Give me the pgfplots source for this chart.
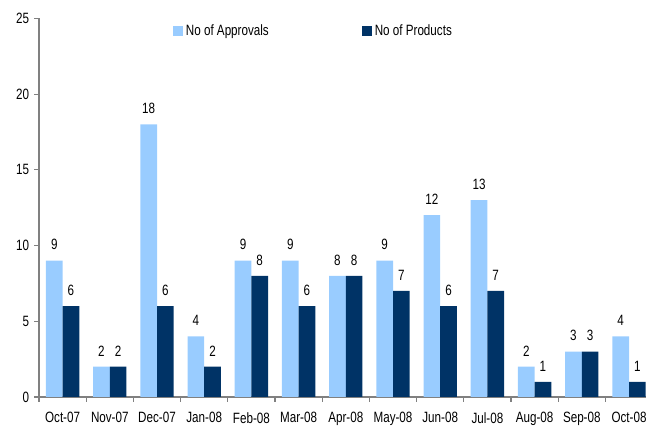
\documentclass[border=0pt]{standalone}
\usepackage{fontspec}
\setmainfont{Liberation Sans}[FakeStretch=0.78]
\usepackage{pgfplots}
\pgfplotsset{compat=1.18}
\definecolor{lb}{RGB}{153,204,255}
\definecolor{db}{RGB}{0,51,102}
\definecolor{axgray}{RGB}{128,128,128}
\begin{document}
\fontsize{11.2}{13}\selectfont
\begin{tikzpicture}
\begin{axis}[
  at={(0,0)}, anchor=south west,
  scale only axis, width=460.2pt, height=284pt,
  xmin=-0.5, xmax=12.5, ymin=0, ymax=25,
  axis x line=bottom, axis y line=left,
  axis line style={-, axgray, line width=1pt},
  tick style={axgray, line width=0.8pt},
  tick align=outside, major tick length=3.5pt,
  ytick={0,5,...,25},
  xtick={-0.5,0.5,...,12.5},
  x tick label as interval,
  xticklabels={Oct-07,Nov-07,Dec-07,Jan-08,Feb-08,Mar-08,Apr-08,May-08,Jun-08,Jul-08,Aug-08,Sep-08,Oct-08},
  /pgf/number format/assume math mode=true,
  tick label style={font=\fontsize{11.2}{13}\selectfont, black},
  x tick label style={yshift=-4pt},
  ybar, bar width=12.5pt,
  nodes near coords,
  every node near coord/.append style={font=\fontsize{11.2}{13}\selectfont, black, yshift=4pt},
  legend style={draw=none, fill=none, at={(0.448,0.966)}, anchor=center,
    legend columns=2, font=\fontsize{11.2}{13}\selectfont,
    /tikz/every even column/.append style={column sep=68pt}},
  legend image code/.code={\fill[#1] (0pt,-3.75pt) rectangle (7.5pt,3.75pt);},
]
\addplot[fill=lb, draw=none, bar shift=-6.25pt] coordinates {
(0,9) (1,2) (2,18) (3,4) (4,9) (5,9) (6,8) (7,9) (8,12) (9,13) (10,2) (11,3) (12,4)};
\addplot[fill=db, draw=none, bar shift=6.25pt] coordinates {
(0,6) (1,2) (2,6) (3,2) (4,8) (5,6) (6,8) (7,7) (8,6) (9,7) (10,1) (11,3) (12,1)};
\legend{No of Approvals, No of Products}
\end{axis}
\pgfresetboundingbox
\path[use as bounding box] (-29.25pt,-22.5pt) rectangle (455.25pt,297.75pt);
\end{tikzpicture}
\end{document}
